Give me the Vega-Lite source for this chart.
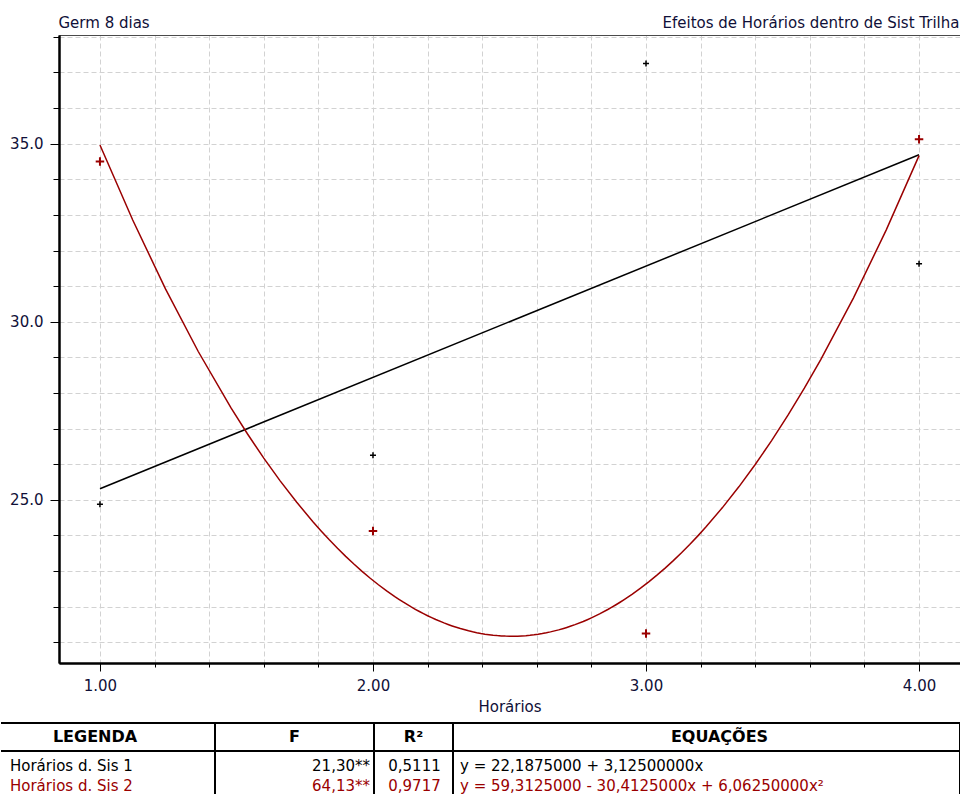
{
  "$schema": "https://vega.github.io/schema/vega-lite/v6.json",
  "background": "white",
  "padding": {"left": 0, "top": 15, "right": 0, "bottom": 0},
  "config": {
    "font": "DejaVu Sans",
    "view": {"stroke": null},
    "axis": {
      "labelFont": "DejaVu Sans",
      "labelFontSize": 15,
      "labelColor": "#101038",
      "titleFont": "DejaVu Sans",
      "titleFontSize": 15,
      "titleFontWeight": "normal",
      "titleColor": "#101038",
      "tickColor": "#000000",
      "tickWidth": 1,
      "domainColor": "#000000",
      "domainWidth": 2,
      "gridColor": "#d2d2d2",
      "gridDash": [5, 3],
      "gridWidth": 1
    }
  },
  "datasets": {
    "obs": [
      {"serie": "Horários d. Sis 1", "horario": 1, "germinacao": 24.875},
      {"serie": "Horários d. Sis 1", "horario": 2, "germinacao": 26.25},
      {"serie": "Horários d. Sis 1", "horario": 3, "germinacao": 37.25},
      {"serie": "Horários d. Sis 1", "horario": 4, "germinacao": 31.625},
      {"serie": "Horários d. Sis 2", "horario": 1, "germinacao": 34.5},
      {"serie": "Horários d. Sis 2", "horario": 2, "germinacao": 24.125},
      {"serie": "Horários d. Sis 2", "horario": 3, "germinacao": 21.25},
      {"serie": "Horários d. Sis 2", "horario": 4, "germinacao": 35.125}
    ],
    "stats": [
      {"serie": "Horários d. Sis 1", "F": "21,30**", "R2": "0,5111", "equacao": "y = 22,1875000 + 3,12500000x"},
      {"serie": "Horários d. Sis 2", "F": "64,13**", "R2": "0,9717", "equacao": "y = 59,3125000 - 30,4125000x + 6,06250000x²"}
    ]
  },
  "spacing": 8,
  "vconcat": [
    {
      "width": 901,
      "height": 628,
      "data": {"name": "obs"},
      "resolve": {"axis": {"x": "independent", "y": "independent"}},
      "layer": [
        {
          "transform": [{"filter": "datum.serie === 'Horários d. Sis 1'"}],
          "mark": {"type": "point", "shape": "M-1,0H1M0,-1V1", "filled": false, "size": 36, "strokeWidth": 1.5, "opacity": 1},
          "encoding": {
            "x": {
              "field": "horario", "type": "quantitative",
              "scale": {"domain": [0.85, 4.15], "nice": false, "zero": false},
              "axis": {"orient": "bottom", "values": [1, 2, 3, 4], "format": ".2f", "tickSize": 8, "labelPadding": 7, "grid": false, "domain": true, "title": "Horários", "titleY": 48, "titleBaseline": "alphabetic", "labelFlush": false}
            },
            "y": {
              "field": "germinacao", "type": "quantitative",
              "scale": {"domain": [20.42, 38.05], "nice": false, "zero": false},
              "axis": {"orient": "left", "values": [25, 30, 35], "format": ".1f", "tickSize": 9, "labelPadding": 7, "grid": false, "domain": true, "title": null, "minExtent": 59, "maxExtent": 59}
            },
            "color": {"field": "serie", "type": "nominal", "scale": {"domain": ["Horários d. Sis 1", "Horários d. Sis 2"], "range": ["#000000", "#9a0000"]}, "legend": null}
          }
        },
        {
          "transform": [{"filter": "datum.serie === 'Horários d. Sis 2'"}],
          "mark": {"type": "point", "shape": "M-1,0H1M0,-1V1", "filled": false, "size": 72, "strokeWidth": 2, "opacity": 1},
          "encoding": {
            "x": {
              "field": "horario", "type": "quantitative",
              "scale": {"domain": [0.85, 4.15], "nice": false, "zero": false},
              "axis": {"orient": "bottom", "values": [1, 1.2, 1.4, 1.6, 1.8, 2, 2.2, 2.4, 2.6, 2.8, 3, 3.2, 3.4, 3.6, 3.8, 4], "labels": false, "tickSize": 4, "grid": true, "domain": true, "title": null}
            },
            "y": {
              "field": "germinacao", "type": "quantitative",
              "scale": {"domain": [20.42, 38.05], "nice": false, "zero": false},
              "axis": {"orient": "left", "values": [21, 22, 23, 24, 25, 26, 27, 28, 29, 30, 31, 32, 33, 34, 35, 36, 37, 38], "labels": false, "tickSize": 6, "grid": true, "domain": true, "title": null, "minExtent": 59, "maxExtent": 59}
            },
            "color": {"field": "serie", "type": "nominal", "scale": {"domain": ["Horários d. Sis 1", "Horários d. Sis 2"], "range": ["#000000", "#9a0000"]}, "legend": null}
          }
        },
        {
          "transform": [
            {"filter": "datum.serie === 'Horários d. Sis 1'"},
            {"regression": "germinacao", "on": "horario", "method": "linear", "extent": [1, 4], "groupby": ["serie"]}
          ],
          "mark": {"type": "line", "strokeWidth": 1.5},
          "encoding": {
            "x": {
              "field": "horario", "type": "quantitative",
              "scale": {"domain": [0.85, 4.15], "nice": false, "zero": false},
              "axis": {"orient": "top", "ticks": false, "labels": false, "grid": false, "domain": true, "domainColor": "#4a4a4a", "domainWidth": 1, "title": "Germ 8 dias", "titleX": -1, "titleY": -8, "titleAlign": "left", "titleAnchor": "start", "titleBaseline": "alphabetic"}
            },
            "y": {"field": "germinacao", "type": "quantitative", "scale": {"domain": [20.42, 38.05], "nice": false, "zero": false}, "axis": null},
            "color": {"field": "serie", "type": "nominal", "scale": {"domain": ["Horários d. Sis 1", "Horários d. Sis 2"], "range": ["#000000", "#9a0000"]}, "legend": null}
          }
        },
        {
          "transform": [
            {"filter": "datum.serie === 'Horários d. Sis 2'"},
            {"regression": "germinacao", "on": "horario", "method": "poly", "order": 2, "extent": [1, 4], "groupby": ["serie"]}
          ],
          "mark": {"type": "line", "strokeWidth": 1.5},
          "encoding": {
            "x": {
              "field": "horario", "type": "quantitative",
              "scale": {"domain": [0.85, 4.15], "nice": false, "zero": false},
              "axis": {"orient": "top", "ticks": false, "labels": false, "grid": false, "domain": false, "title": "Efeitos de Horários dentro de Sist Trilha", "titleX": 900, "titleY": -8, "titleAlign": "right", "titleAnchor": "end", "titleBaseline": "alphabetic"}
            },
            "y": {"field": "germinacao", "type": "quantitative", "scale": {"domain": [20.42, 38.05], "nice": false, "zero": false}, "axis": null},
            "color": {"field": "serie", "type": "nominal", "scale": {"domain": ["Horários d. Sis 1", "Horários d. Sis 2"], "range": ["#000000", "#9a0000"]}, "legend": null}
          }
        }
      ]
    },
    {
      "columns": 4,
      "spacing": 0,
      "bounds": "flush",
      "concat": [
        {
          "width": 156, "height": 28, "view": {"stroke": null},
          "data": {"values": [{"cabecalho": "LEGENDA"}]},
          "mark": {"type": "text", "fontWeight": "bold", "fontSize": 16, "color": "#000000", "baseline": "middle", "dx": -42},
          "encoding": {
            "text": {"field": "cabecalho"},
            "y": {"datum": 0.5, "type": "quantitative", "scale": {"domain": [0, 1], "nice": false, "zero": false},
                  "axis": {"orient": "left", "values": [0, 1], "labels": false, "domain": false, "ticks": true, "tickSize": 58, "tickWidth": 2, "tickColor": "#000000", "grid": true, "gridColor": "#000000", "gridWidth": 2, "gridDash": [], "title": null, "translate": 0}}
          }
        },
        {"width": 159, "height": 28, "view": {"stroke": "#000000", "strokeWidth": 2}, "data": {"values": [{"cabecalho": "F"}]}, "mark": {"type": "text", "fontWeight": "bold", "fontSize": 16, "color": "#000000", "baseline": "middle"}, "encoding": {"text": {"field": "cabecalho"}}},
        {"width": 79, "height": 28, "view": {"stroke": "#000000", "strokeWidth": 2}, "data": {"values": [{"cabecalho": "R²"}]}, "mark": {"type": "text", "fontWeight": "bold", "fontSize": 16, "color": "#000000", "baseline": "middle"}, "encoding": {"text": {"field": "cabecalho"}}},
        {"width": 507, "height": 28, "view": {"stroke": "#000000", "strokeWidth": 2}, "data": {"values": [{"cabecalho": "EQUAÇÕES"}]}, "mark": {"type": "text", "fontWeight": "bold", "fontSize": 16, "color": "#000000", "baseline": "middle", "dx": 13}, "encoding": {"text": {"field": "cabecalho"}}},
        {
          "width": 156, "height": 46, "view": {"stroke": null},
          "data": {"name": "stats"},
          "mark": {"type": "text", "align": "left", "baseline": "middle", "fontSize": 15, "dx": -127, "dy": 2},
          "encoding": {
            "y": {"field": "serie", "type": "nominal", "axis": null, "scale": {"type": "point", "padding": 0.6}},
            "text": {"field": "serie"},
            "color": {"field": "serie", "type": "nominal", "scale": {"domain": ["Horários d. Sis 1", "Horários d. Sis 2"], "range": ["#000000", "#9a0000"]}, "legend": null}
          }
        },
        {
          "width": 159, "height": 46, "view": {"stroke": "#000000", "strokeWidth": 2},
          "data": {"name": "stats"},
          "mark": {"type": "text", "align": "right", "baseline": "middle", "fontSize": 15, "dx": 75.5, "dy": 2},
          "encoding": {
            "y": {"field": "serie", "type": "nominal", "axis": null, "scale": {"type": "point", "padding": 0.6}},
            "text": {"field": "F"},
            "color": {"field": "serie", "type": "nominal", "scale": {"domain": ["Horários d. Sis 1", "Horários d. Sis 2"], "range": ["#000000", "#9a0000"]}, "legend": null}
          }
        },
        {
          "width": 79, "height": 46, "view": {"stroke": "#000000", "strokeWidth": 2},
          "data": {"name": "stats"},
          "mark": {"type": "text", "align": "center", "baseline": "middle", "fontSize": 15, "dx": 1, "dy": 2},
          "encoding": {
            "y": {"field": "serie", "type": "nominal", "axis": null, "scale": {"type": "point", "padding": 0.6}},
            "text": {"field": "R2"},
            "color": {"field": "serie", "type": "nominal", "scale": {"domain": ["Horários d. Sis 1", "Horários d. Sis 2"], "range": ["#000000", "#9a0000"]}, "legend": null}
          }
        },
        {
          "width": 507, "height": 46, "view": {"stroke": "#000000", "strokeWidth": 2},
          "data": {"name": "stats"},
          "mark": {"type": "text", "align": "left", "baseline": "middle", "fontSize": 15, "dx": -246.5, "dy": 2},
          "encoding": {
            "y": {"field": "serie", "type": "nominal", "axis": null, "scale": {"type": "point", "padding": 0.6}},
            "text": {"field": "equacao"},
            "color": {"field": "serie", "type": "nominal", "scale": {"domain": ["Horários d. Sis 1", "Horários d. Sis 2"], "range": ["#000000", "#9a0000"]}, "legend": null}
          }
        }
      ]
    }
  ]
}
